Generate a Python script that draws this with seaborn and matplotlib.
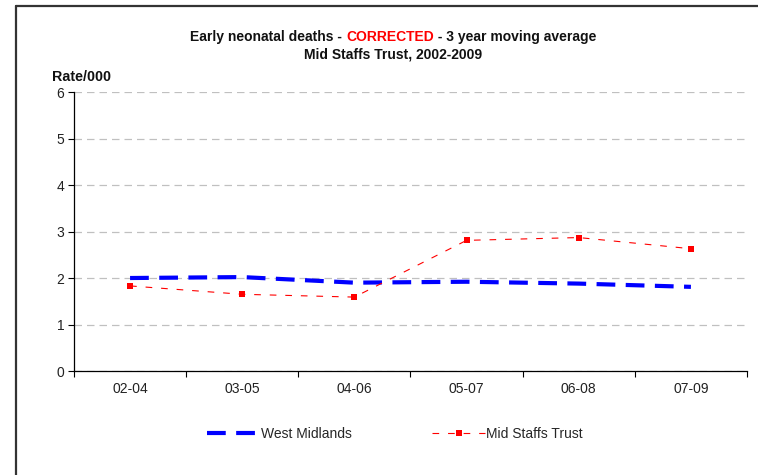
"""Early neonatal deaths - 3 year moving average chart."""

import matplotlib
matplotlib.use("Agg")

import matplotlib.pyplot as plt
import numpy as np
import pandas as pd
import seaborn as sns

sns.set_theme(style="white")
plt.rcParams["font.family"] = ["Liberation Sans", "DejaVu Sans"]

periods = ["02-04", "03-05", "04-06", "05-07", "06-08", "07-09"]
west_midlands = [2.00, 2.02, 1.90, 1.92, 1.88, 1.81]
mid_staffs = [1.83, 1.65, 1.59, 2.81, 2.87, 2.63]

pos = np.arange(len(periods)) + 0.5
df = pd.DataFrame({"pos": pos, "wm": west_midlands, "ms": mid_staffs})

fig = plt.figure(figsize=(7.58, 4.75), dpi=100)
ax = fig.add_axes([0.0976, 0.2189, 0.8879, 0.5874])

sns.lineplot(data=df, x="pos", y="wm", ax=ax, color="#0000FF", lw=3.0,
             label="West Midlands")
ax.lines[-1].set_dashes([4.5, 2.5])
sns.lineplot(data=df, x="pos", y="ms", ax=ax, color="#FF0000", lw=0.8,
             marker="s", markersize=4.4, markeredgewidth=0, label="Mid Staffs Trust")
ax.lines[-1].set_dashes([6, 8])

ax.set_xlim(0, len(periods))
ax.set_ylim(0, 6)
ax.set_yticks(range(0, 7))
ax.set_xticks(pos)
ax.set_xticklabels(periods)
ax.set_xticks(np.arange(len(periods) + 1), minor=True)
ax.tick_params(axis="x", which="major", length=0, pad=8, labelsize=10, colors="#222222")
ax.tick_params(axis="x", which="minor", length=4, width=0.8, color="black", direction="out")
ax.tick_params(axis="y", length=4, width=0.8, color="black", direction="out",
               labelsize=10, pad=3, labelcolor="#222222")
ax.xaxis.set_ticks_position("bottom")
ax.yaxis.set_ticks_position("left")
ax.set_xlabel("")
ax.set_ylabel("")

ax.grid(axis="y", color="#c0c0c0", linestyle=(0, (6, 4)), lw=0.9)
ax.set_axisbelow(True)
for s in ["top", "right"]:
    ax.spines[s].set_visible(False)
for s in ["left", "bottom"]:
    ax.spines[s].set_color("black")
    ax.spines[s].set_linewidth(0.9)

ax.get_legend().remove()
handles, labels = ax.get_legend_handles_labels()
fig.legend(handles, labels, loc="center", bbox_to_anchor=(0.521, 0.086), ncol=2,
           frameon=False, fontsize=10, handlelength=3.8, handletextpad=0.05,
           columnspacing=5.8)

# title line 1 with red word, centred as a whole
tsize = 10
cx = 0.519
parts = [("Early neonatal deaths - ", "#111111"), ("CORRECTED", "#FF0000"),
         (" - 3 year moving average", "#111111")]
texts = [fig.text(0, 0.922, p, ha="left", va="center", fontsize=tsize,
                  fontweight="bold", color=c) for p, c in parts]
fig.canvas.draw()
inv = fig.transFigure.inverted()
widths = []
for t in texts:
    bb = t.get_window_extent().transformed(inv)
    widths.append(bb.x1 - bb.x0)
x = cx - sum(widths) / 2
for t, w in zip(texts, widths):
    t.set_x(x)
    x += w

fig.text(cx, 0.886, "Mid Staffs Trust, 2002-2009", ha="center", va="center",
         fontsize=tsize, fontweight="bold", color="#111111")
fig.text(0.069, 0.838, "Rate/000", ha="left", va="center", fontsize=10.3,
         fontweight="bold", color="#111111")

# outer frame (left and top)
fig.add_artist(plt.Line2D([0.0205, 0.0205], [0, 0.988], color="#333333", lw=1.6,
                          transform=fig.transFigure))
fig.add_artist(plt.Line2D([0.0205, 1.0], [0.988, 0.988], color="#333333", lw=1.6,
                          transform=fig.transFigure))

fig.savefig("out.png", dpi=100)
